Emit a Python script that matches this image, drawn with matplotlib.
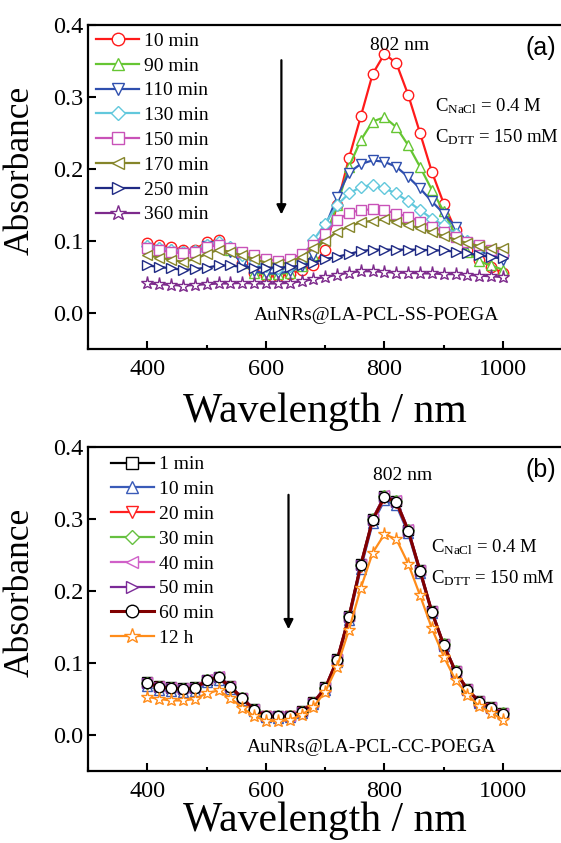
import numpy as np
import matplotlib
matplotlib.use("Agg")
import matplotlib.pyplot as plt
from matplotlib.ticker import MultipleLocator

plt.rcParams['font.family'] = ['Liberation Serif', 'DejaVu Serif']
plt.rcParams['mathtext.fontset'] = 'custom'
plt.rcParams['mathtext.rm'] = 'Liberation Serif'
plt.rcParams['mathtext.it'] = 'Liberation Serif:italic'

wl = np.arange(400, 1001, 20)

# ---- panel (a): AuNRs@LA-PCL-SS-POEGA ----
labels_a = ["10 min", "90 min", "110 min", "130 min", "150 min", "170 min", "250 min", "360 min"]
a10 = [0.097, 0.094, 0.091, 0.088, 0.088, 0.099, 0.101, 0.090, 0.070, 0.055, 0.052, 0.052, 0.054, 0.060, 0.066,
       0.088, 0.150, 0.215, 0.273, 0.332, 0.360, 0.347, 0.303, 0.250, 0.196, 0.152, 0.115, 0.088, 0.074, 0.064, 0.055]
a90 = [0.095, 0.091, 0.089, 0.086, 0.087, 0.096, 0.098, 0.088, 0.070, 0.056, 0.054, 0.054, 0.056, 0.065, 0.080,
       0.105, 0.150, 0.203, 0.240, 0.266, 0.272, 0.258, 0.233, 0.203, 0.171, 0.141, 0.108, 0.085, 0.072, 0.066, 0.060]
a110 = [0.090, 0.088, 0.085, 0.083, 0.085, 0.093, 0.095, 0.085, 0.070, 0.058, 0.055, 0.055, 0.058, 0.065, 0.080,
        0.120, 0.161, 0.195, 0.207, 0.212, 0.210, 0.203, 0.189, 0.173, 0.155, 0.138, 0.120, 0.097, 0.086, 0.080, 0.074]
a130 = [0.093, 0.090, 0.087, 0.085, 0.086, 0.095, 0.098, 0.092, 0.080, 0.070, 0.065, 0.063, 0.065, 0.075, 0.101,
        0.124, 0.150, 0.166, 0.175, 0.178, 0.173, 0.166, 0.155, 0.143, 0.131, 0.122, 0.110, 0.100, 0.090, 0.085, 0.080]
a150 = [0.090, 0.087, 0.085, 0.083, 0.085, 0.092, 0.094, 0.090, 0.085, 0.080, 0.075, 0.072, 0.075, 0.082, 0.095,
        0.110, 0.129, 0.139, 0.143, 0.144, 0.143, 0.138, 0.134, 0.127, 0.120, 0.113, 0.106, 0.099, 0.094, 0.087, 0.085]
a170 = [0.080, 0.077, 0.074, 0.071, 0.075, 0.082, 0.088, 0.085, 0.080, 0.075, 0.070, 0.068, 0.070, 0.078, 0.090,
        0.100, 0.113, 0.120, 0.126, 0.128, 0.130, 0.127, 0.122, 0.118, 0.112, 0.107, 0.102, 0.097, 0.093, 0.090, 0.090]
a250 = [0.066, 0.064, 0.062, 0.060, 0.061, 0.063, 0.066, 0.066, 0.064, 0.063, 0.063, 0.063, 0.064, 0.066, 0.070,
        0.075, 0.078, 0.082, 0.086, 0.088, 0.088, 0.088, 0.088, 0.088, 0.087, 0.087, 0.085, 0.083, 0.080, 0.078, 0.076]
a360 = [0.041, 0.040, 0.039, 0.038, 0.039, 0.040, 0.041, 0.041, 0.042, 0.041, 0.041, 0.041, 0.042, 0.044, 0.047,
        0.050, 0.053, 0.056, 0.058, 0.058, 0.057, 0.056, 0.056, 0.055, 0.055, 0.054, 0.054, 0.053, 0.052, 0.051, 0.050]
series_a = [a10, a90, a110, a130, a150, a170, a250, a360]
colors_a = ['#ff1a1a', '#66c633', '#2f4fae', '#62c8dc', '#c952b8', '#85852a', '#1f2a84', '#7d2a8c']
markers_a = ['o', '^', 'v', 'D', 's', '<', '>', '*']

# ---- panel (b): AuNRs@LA-PCL-CC-POEGA ----
labels_b = ["1 min", "10 min", "20 min", "30 min", "40 min", "50 min", "60 min", "12 h"]
b1 = [0.073, 0.068, 0.066, 0.065, 0.066, 0.077, 0.081, 0.068, 0.052, 0.036, 0.027, 0.027, 0.027, 0.033, 0.046,
      0.066, 0.105, 0.165, 0.237, 0.300, 0.332, 0.325, 0.285, 0.229, 0.172, 0.126, 0.089, 0.064, 0.047, 0.039, 0.030]
b10 = [0.068, 0.063, 0.061, 0.060, 0.061, 0.073, 0.077, 0.064, 0.049, 0.033, 0.025, 0.024, 0.025, 0.031, 0.043,
       0.063, 0.101, 0.160, 0.231, 0.294, 0.326, 0.319, 0.280, 0.225, 0.169, 0.124, 0.087, 0.062, 0.045, 0.037, 0.029]
b20 = [0.071, 0.066, 0.064, 0.063, 0.064, 0.075, 0.079, 0.066, 0.050, 0.034, 0.026, 0.025, 0.026, 0.032, 0.044,
       0.064, 0.103, 0.163, 0.234, 0.297, 0.329, 0.322, 0.283, 0.227, 0.170, 0.125, 0.088, 0.063, 0.046, 0.038, 0.029]
b30 = [0.072, 0.067, 0.065, 0.064, 0.065, 0.077, 0.081, 0.067, 0.051, 0.035, 0.026, 0.026, 0.026, 0.032, 0.045,
       0.065, 0.104, 0.165, 0.236, 0.300, 0.332, 0.325, 0.285, 0.228, 0.171, 0.126, 0.089, 0.063, 0.046, 0.038, 0.030]
b40 = [0.073, 0.068, 0.066, 0.065, 0.066, 0.078, 0.082, 0.068, 0.052, 0.036, 0.027, 0.027, 0.027, 0.033, 0.046,
       0.066, 0.105, 0.165, 0.237, 0.301, 0.333, 0.326, 0.286, 0.229, 0.172, 0.126, 0.089, 0.064, 0.047, 0.039, 0.031]
b50 = [0.072, 0.067, 0.065, 0.064, 0.065, 0.077, 0.081, 0.067, 0.051, 0.035, 0.026, 0.026, 0.026, 0.032, 0.045,
       0.065, 0.104, 0.164, 0.236, 0.299, 0.331, 0.324, 0.284, 0.228, 0.171, 0.125, 0.088, 0.063, 0.046, 0.038, 0.029]
b60 = [0.072, 0.067, 0.065, 0.064, 0.065, 0.076, 0.080, 0.067, 0.051, 0.035, 0.026, 0.026, 0.026, 0.032, 0.045,
       0.065, 0.104, 0.164, 0.236, 0.299, 0.331, 0.324, 0.284, 0.228, 0.171, 0.125, 0.088, 0.063, 0.046, 0.038, 0.029]
b12h = [0.053, 0.050, 0.048, 0.048, 0.050, 0.058, 0.062, 0.051, 0.038, 0.026, 0.020, 0.019, 0.021, 0.028, 0.039,
        0.060, 0.095, 0.146, 0.204, 0.253, 0.279, 0.272, 0.238, 0.194, 0.148, 0.109, 0.076, 0.056, 0.040, 0.031, 0.021]
series_b = [b1, b10, b20, b30, b40, b50, b60, b12h]
colors_b = ['#000000', '#3a5bb8', '#ff2020', '#66c040', '#d060c8', '#7b2a98', '#800000', '#ff8c1a']
markers_b = ['s', '^', 'v', 'D', '<', '>', 'o', '*']


def style_axes(ax, xpad):
    ax.set_xlim(300, 1100)
    ax.set_ylim(-0.05, 0.4)
    ax.xaxis.set_major_locator(MultipleLocator(200))
    ax.xaxis.set_minor_locator(MultipleLocator(100))
    ax.yaxis.set_major_locator(MultipleLocator(0.1))
    ax.tick_params(axis='both', which='major', direction='in', length=5.5, width=1.5,
                   labelsize=17.5, top=False, right=False)
    ax.tick_params(axis='x', which='minor', direction='in', length=3, width=1.5, top=False)
    ax.tick_params(axis='x', which='major', pad=7)
    ax.tick_params(axis='y', which='major', pad=3.5)
    for s in ax.spines.values():
        s.set_linewidth(1.6)
    ax.set_xlabel("Wavelength / nm", fontsize=30, labelpad=xpad)
    ax.set_ylabel("Absorbance", fontsize=25.5)
    ax.yaxis.set_label_coords(-0.108, 0.55)


fig = plt.figure(figsize=(5.61, 8.43), dpi=100)
ax1 = fig.add_axes([0.1573, 0.5860, 0.8449, 0.3843])
ax2 = fig.add_axes([0.1573, 0.0854, 0.8449, 0.3843])

for y, lab, c, m in zip(series_a, labels_a, colors_a, markers_a):
    ms = 6 if m == 'D' else (9.5 if m == '*' else 7.5)
    ax1.plot(wl, y, color=c, marker=m, mfc='white', mec=c, ms=ms, mew=1.0, lw=1.6, label=lab)

for y, lab, c, m in zip(series_b, labels_b, colors_b, markers_b):
    ms = 6 if m == 'D' else (9.5 if m == '*' else 7.5)
    ax2.plot(wl, y, color=c, marker=m, mfc='white', mec=('black' if m == 'o' else c), ms=ms, mew=1.0,
             lw=1.6 if m != 'o' else 2.2, label=lab)

style_axes(ax1, 9)
style_axes(ax2, 0)

leg_kw = dict(loc='upper left', frameon=False, fontsize=14, handlelength=2.2, handletextpad=0.25,
              labelspacing=0.37, borderpad=0, borderaxespad=0, markerscale=1.2)
ax1.legend(bbox_to_anchor=(0.017, 0.978), **leg_kw)
ax2.legend(bbox_to_anchor=(0.048, 0.973), **leg_kw)

# annotations panel (a)
ax1.text(826, 0.372, "802 nm", fontsize=14, ha='center', va='center')
ax1.text(0.955, 0.93, "(a)", transform=ax1.transAxes, fontsize=18, family='Liberation Sans',
         ha='center', va='center')
ax1.text(886, 0.2875, r"C$_{\mathrm{NaCl}}$ = 0.4 M", fontsize=13.5, ha='left', va='center')
ax1.text(886, 0.2445, r"C$_{\mathrm{DTT}}$ = 150 mM", fontsize=13.5, ha='left', va='center')
ax1.text(787, -0.004, "AuNRs@LA-PCL-SS-POEGA", fontsize=14, ha='center', va='center')
ax1.annotate("", xy=(626, 0.133), xytext=(626, 0.355),
             arrowprops=dict(arrowstyle='-|>', color='black', lw=1.6, mutation_scale=14))

# annotations panel (b)
ax2.text(831, 0.361, "802 nm", fontsize=14, ha='center', va='center')
ax2.text(0.955, 0.93, "(b)", transform=ax2.transAxes, fontsize=18, family='Liberation Sans',
         ha='center', va='center')
ax2.text(879, 0.261, r"C$_{\mathrm{NaCl}}$ = 0.4 M", fontsize=13.5, ha='left', va='center')
ax2.text(879, 0.218, r"C$_{\mathrm{DTT}}$ = 150 mM", fontsize=13.5, ha='left', va='center')
ax2.text(779, -0.017, "AuNRs@LA-PCL-CC-POEGA", fontsize=14, ha='center', va='center')
ax2.annotate("", xy=(638, 0.143), xytext=(638, 0.3375),
             arrowprops=dict(arrowstyle='-|>', color='black', lw=1.6, mutation_scale=14))

fig.savefig("out.png", dpi=100)
